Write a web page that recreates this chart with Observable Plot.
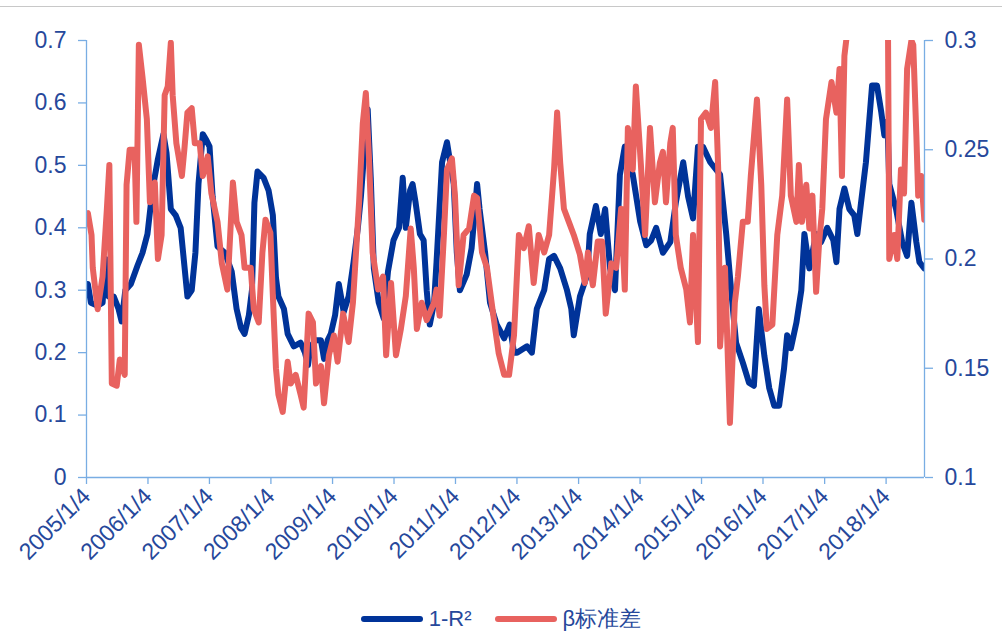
<!DOCTYPE html>
<html>
<head>
<meta charset="utf-8">
<script src="https://cdn.jsdelivr.net/npm/d3@7"></script>
<script src="https://cdn.jsdelivr.net/npm/@observablehq/plot@0.6"></script>
<style>
  body { margin: 0; background: #fff; font-family: "Liberation Sans", Arial, sans-serif; }
  #wrap { position: relative; width: 1002px; height: 642px; overflow: hidden; }
  #topline { position: absolute; left: 0; top: 6px; width: 1002px; height: 0; border-top: 1px solid #c8c8c8; }
  #legend { display: flex; justify-content: center; align-items: center; height: 38px; font-size: 22px; color: #26489b; }
  .sw { width: 62px; height: 6px; border-radius: 3px; margin-right: 6px; }
  .item { display: flex; align-items: center; }
  .item + .item { margin-left: 23px; }
</style>
</head>
<body>
<div id="wrap">
  <div id="chart"></div>
  <div id="legend"></div>
  <div id="topline"></div>
</div>
<script>
// ---- data (decimal year, value) ----
const seriesNames = ["1-R²", "β标准差"];
const seriesColors = ["#003399", "#e8625f"];

const blueSeries = [[2005.03,.31],[2005.08,.28],[2005.19,.275],[2005.27,.28],[2005.32,.35],[2005.37,.29],[2005.45,.29],[2005.53,.27],[2005.58,.25],[2005.64,.30],[2005.73,.31],[2005.84,.34],[2005.92,.36],[2006.00,.39],[2006.08,.46],[2006.17,.51],[2006.26,.55],[2006.31,.52],[2006.38,.43],[2006.46,.42],[2006.54,.40],[2006.60,.34],[2006.65,.29],[2006.72,.30],[2006.78,.36],[2006.83,.47],[2006.90,.55],[2006.96,.54],[2007.01,.53],[2007.06,.45],[2007.14,.37],[2007.26,.36],[2007.37,.33],[2007.45,.27],[2007.52,.24],[2007.58,.23],[2007.65,.26],[2007.70,.30],[2007.74,.44],[2007.79,.49],[2007.89,.48],[2007.97,.46],[2008.04,.42],[2008.09,.32],[2008.13,.29],[2008.22,.27],[2008.28,.23],[2008.38,.21],[2008.49,.216],[2008.56,.20],[2008.61,.18],[2008.65,.21],[2008.74,.22],[2008.82,.22],[2008.87,.19],[2008.93,.22],[2008.98,.23],[2009.05,.26],[2009.11,.31],[2009.19,.265],[2009.27,.29],[2009.35,.345],[2009.42,.40],[2009.47,.45],[2009.53,.53],[2009.58,.59],[2009.63,.48],[2009.68,.335],[2009.76,.28],[2009.84,.255],[2009.91,.33],[2010.00,.38],[2010.09,.40],[2010.15,.48],[2010.20,.40],[2010.27,.46],[2010.31,.47],[2010.36,.44],[2010.43,.39],[2010.49,.38],[2010.54,.30],[2010.59,.245],[2010.66,.28],[2010.70,.345],[2010.79,.505],[2010.87,.537],[2010.93,.50],[2010.98,.47],[2011.03,.36],[2011.08,.30],[2011.19,.325],[2011.27,.367],[2011.36,.47],[2011.40,.43],[2011.49,.36],[2011.57,.28],[2011.68,.245],[2011.80,.223],[2011.89,.245],[2011.96,.20],[2012.01,.20],[2012.17,.21],[2012.25,.20],[2012.33,.27],[2012.45,.30],[2012.53,.35],[2012.61,.355],[2012.71,.335],[2012.82,.30],[2012.89,.27],[2012.93,.228],[2013.03,.29],[2013.15,.325],[2013.19,.39],[2013.29,.435],[2013.37,.39],[2013.44,.43],[2013.52,.335],[2013.60,.30],[2013.68,.485],[2013.76,.53],[2013.83,.51],[2013.89,.485],[2014.01,.41],[2014.11,.372],[2014.19,.38],[2014.27,.40],[2014.38,.36],[2014.50,.377],[2014.59,.44],[2014.71,.505],[2014.79,.45],[2014.87,.415],[2014.95,.53],[2015.03,.53],[2015.15,.505],[2015.31,.485],[2015.41,.39],[2015.49,.30],[2015.57,.216],[2015.68,.184],[2015.78,.152],[2015.86,.147],[2015.94,.27],[2016.03,.195],[2016.11,.143],[2016.19,.115],[2016.27,.115],[2016.35,.175],[2016.40,.228],[2016.46,.207],[2016.55,.248],[2016.63,.30],[2016.68,.39],[2016.76,.335],[2016.87,.39],[2016.95,.377],[2017.05,.40],[2017.15,.38],[2017.20,.345],[2017.25,.43],[2017.33,.463],[2017.41,.43],[2017.49,.42],[2017.54,.39],[2017.60,.44],[2017.68,.505],[2017.78,.628],[2017.86,.628],[2017.93,.585],[2017.98,.548],[2018.03,.57],[2018.06,.47],[2018.17,.43],[2018.27,.377],[2018.35,.355],[2018.42,.44],[2018.50,.377],[2018.55,.345],[2018.63,.335]];

const redSeries = [[2005.03,.221],[2005.09,.211],[2005.11,.196],[2005.19,.177],[2005.27,.192],[2005.34,.223],[2005.38,.243],[2005.42,.143],[2005.50,.142],[2005.55,.154],[2005.63,.147],[2005.66,.234],[2005.71,.25],[2005.79,.25],[2005.82,.217],[2005.86,.298],[2005.92,.283],[2005.99,.264],[2006.04,.226],[2006.12,.235],[2006.17,.20],[2006.23,.211],[2006.28,.275],[2006.33,.279],[2006.38,.299],[2006.41,.275],[2006.47,.253],[2006.56,.238],[2006.60,.25],[2006.65,.267],[2006.72,.269],[2006.77,.253],[2006.85,.253],[2006.90,.238],[2006.98,.247],[2007.04,.23],[2007.14,.217],[2007.21,.198],[2007.30,.186],[2007.39,.235],[2007.45,.217],[2007.53,.211],[2007.58,.196],[2007.68,.196],[2007.73,.177],[2007.81,.171],[2007.87,.203],[2007.92,.218],[2008.00,.212],[2008.04,.183],[2008.09,.15],[2008.13,.138],[2008.20,.13],[2008.28,.153],[2008.33,.143],[2008.41,.147],[2008.49,.138],[2008.54,.132],[2008.62,.175],[2008.69,.171],[2008.74,.143],[2008.82,.151],[2008.87,.134],[2008.95,.156],[2009.03,.165],[2009.09,.153],[2009.18,.175],[2009.27,.162],[2009.34,.18],[2009.39,.203],[2009.44,.226],[2009.50,.262],[2009.55,.276],[2009.60,.247],[2009.66,.203],[2009.75,.186],[2009.83,.192],[2009.88,.156],[2009.96,.189],[2010.04,.156],[2010.12,.168],[2010.20,.183],[2010.28,.214],[2010.33,.196],[2010.38,.168],[2010.46,.18],[2010.54,.172],[2010.66,.18],[2010.70,.186],[2010.75,.174],[2010.82,.211],[2010.87,.241],[2010.95,.246],[2011.00,.229],[2011.06,.188],[2011.14,.211],[2011.23,.214],[2011.31,.229],[2011.36,.228],[2011.44,.203],[2011.52,.196],[2011.63,.173],[2011.71,.157],[2011.80,.147],[2011.88,.147],[2011.96,.165],[2012.04,.211],[2012.12,.205],[2012.20,.215],[2012.28,.189],[2012.36,.211],[2012.45,.203],[2012.53,.211],[2012.61,.241],[2012.66,.267],[2012.71,.244],[2012.77,.223],[2012.85,.217],[2012.93,.211],[2013.03,.202],[2013.11,.189],[2013.16,.203],[2013.24,.188],[2013.32,.208],[2013.39,.208],[2013.45,.175],[2013.54,.198],[2013.62,.196],[2013.70,.223],[2013.76,.186],[2013.81,.26],[2013.89,.241],[2013.94,.279],[2014.02,.244],[2014.09,.211],[2014.17,.26],[2014.25,.226],[2014.33,.244],[2014.38,.249],[2014.43,.226],[2014.50,.253],[2014.54,.26],[2014.59,.211],[2014.67,.196],[2014.76,.186],[2014.82,.171],[2014.87,.211],[2014.95,.162],[2015.00,.264],[2015.08,.267],[2015.16,.26],[2015.23,.281],[2015.28,.241],[2015.31,.16],[2015.39,.196],[2015.47,.125],[2015.55,.18],[2015.60,.192],[2015.68,.217],[2015.76,.217],[2015.81,.238],[2015.91,.273],[2015.98,.234],[2016.03,.188],[2016.07,.168],[2016.16,.17],[2016.24,.211],[2016.32,.229],[2016.40,.273],[2016.46,.229],[2016.55,.217],[2016.59,.243],[2016.64,.217],[2016.71,.234],[2016.76,.214],[2016.81,.229],[2016.87,.185],[2016.92,.208],[2016.97,.223],[2017.03,.264],[2017.12,.281],[2017.20,.267],[2017.25,.287],[2017.29,.238],[2017.33,.293],[2017.38,.305],[2017.52,.32],[2017.77,.33],[2017.96,.32],[2018.04,.30],[2018.06,.20],[2018.14,.211],[2018.19,.20],[2018.25,.241],[2018.30,.23],[2018.35,.287],[2018.42,.30],[2018.45,.298],[2018.50,.257],[2018.53,.229],[2018.58,.238],[2018.63,.218]];

const xTickYears = [2005,2006,2007,2008,2009,2010,2011,2012,2013,2014,2015,2016,2017,2018];
const leftTicks = [0, 0.1, 0.2, 0.3, 0.4, 0.5, 0.6, 0.7];
const rightTicks = [0.1, 0.15, 0.2, 0.25, 0.3];
const leftDomain = [0, 0.7];
const rightDomain = [0.1, 0.3];
const xStart = new Date(2005, 0, 4);
const xEnd = new Date(2018, 7, 20);

// ---- helpers ----
function toDate(t) {
  const y = Math.floor(t);
  const a = new Date(y, 0, 1), b = new Date(y + 1, 0, 1);
  return new Date(+a + (t - y) * (b - a));
}
const toLeft = v => leftDomain[0] + (v - rightDomain[0]) / (rightDomain[1] - rightDomain[0]) * (leftDomain[1] - leftDomain[0]);
const fromLeft = v => rightDomain[0] + (v - leftDomain[0]) / (leftDomain[1] - leftDomain[0]) * (rightDomain[1] - rightDomain[0]);

const blue = blueSeries.map(([t, v]) => ({date: toDate(t), v}));
const red = redSeries.map(([t, v]) => ({date: toDate(t), v}));
const xTicks = xTickYears.map(y => new Date(y, 0, 4));

const axisColor = "#79ade3";
const textColor = "#26489b";

const chart = Plot.plot({
  width: 1002,
  height: 600,
  marginLeft: 86,
  marginRight: 78,
  marginTop: 40,
  marginBottom: 123,
  style: {fontFamily: "'Liberation Sans', Arial, sans-serif", fontSize: "23px", background: "#fff", overflow: "visible"},
  x: {type: "time", domain: [xStart, xEnd]},
  y: {domain: leftDomain},
  marks: [
    Plot.line(blue, {x: "date", y: "v", stroke: seriesColors[0], strokeWidth: 6, strokeLinejoin: "round", strokeLinecap: "round", clip: true}),
    Plot.line(red, {x: "date", y: d => toLeft(d.v), stroke: seriesColors[1], strokeWidth: 6, strokeLinejoin: "round", strokeLinecap: "round", clip: true}),
    Plot.ruleX([xStart, xEnd], {stroke: axisColor, strokeWidth: 1.3}),
    Plot.ruleY([0], {stroke: axisColor, strokeWidth: 1.3}),
    Plot.axisY(leftTicks, {anchor: "left", label: null, tickSize: 8, tickPadding: 12, stroke: axisColor, strokeWidth: 1.3, fill: textColor, tickFormat: d => String(+d.toFixed(2))}),
    Plot.axisY(rightTicks.map(toLeft), {anchor: "right", label: null, tickSize: 8, tickPadding: 12, stroke: axisColor, strokeWidth: 1.3, fill: textColor, tickFormat: d => String(+fromLeft(d).toFixed(2))}),
    Plot.axisX(xTicks, {anchor: "bottom", label: null, tickSize: 7, tickPadding: 8, tickRotate: -45, stroke: axisColor, strokeWidth: 1.3, fill: textColor, tickFormat: d => `${d.getFullYear()}/1/4`})
  ]
});
document.getElementById("chart").appendChild(chart);

const legend = document.getElementById("legend");
seriesNames.forEach((name, i) => {
  const item = document.createElement("div");
  item.className = "item";
  const sw = document.createElement("div");
  sw.className = "sw";
  sw.style.background = seriesColors[i];
  const label = document.createElement("span");
  label.textContent = name;
  item.appendChild(sw);
  item.appendChild(label);
  legend.appendChild(item);
});
</script>
</body>
</html>
